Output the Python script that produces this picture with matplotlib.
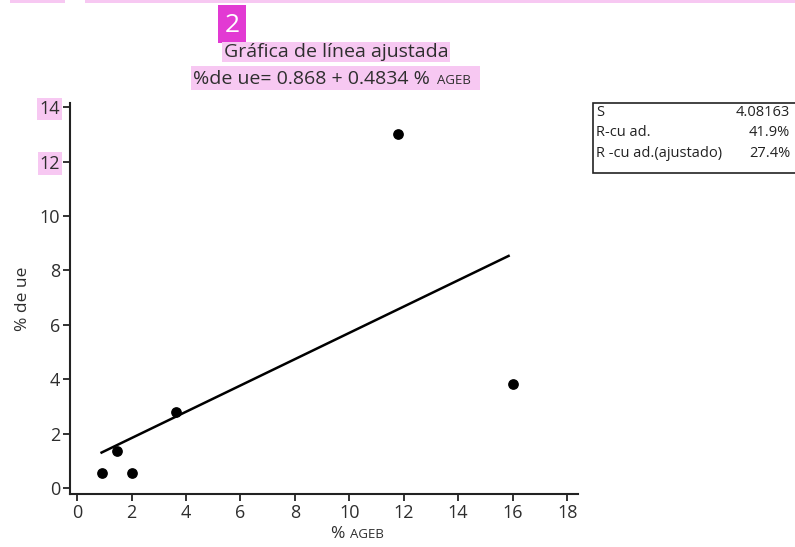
import matplotlib
matplotlib.use("Agg")
import matplotlib.pyplot as plt
from matplotlib.patches import Rectangle
import numpy as np

# Data
x_ageb = [0.9, 1.45, 2.0, 3.65, 11.8, 16.0]
y_ue = [0.55, 1.36, 0.55, 2.78, 13.0, 3.82]
intercept = 0.868
slope = 0.4834
fit_x_range = [0.9, 15.85]
x_ticks = [0, 2, 4, 6, 8, 10, 12, 14, 16, 18]
y_ticks = [0, 2, 4, 6, 8, 10, 12, 14]
stats_labels = ["S", "R-cu ad.", "R -cu ad.(ajustado)"]
stats_values = ["4.08163", "41.9%", "27.4%"]

plt.rcParams['font.family'] = ['Open Sans', 'DejaVu Sans']
TXT = "#2e2e2e"
PINK = "#f7c8f2"
W, H = 795, 547

fig = plt.figure(figsize=(7.95, 5.47), dpi=100)
ax = fig.add_axes([70 / W, 1 - 494 / H, (578 - 70) / W, (494 - 103) / H])

ax.scatter(x_ageb, y_ue, s=45, color="black", zorder=3)
xl = np.array(fit_x_range)
ax.plot(xl, intercept + slope * xl, color="black", lw=1.8)

ax.set_xlim(-0.26, 18.4)
ax.set_ylim(-0.22, 14.15)
ax.set_xticks(x_ticks)
ax.set_yticks(y_ticks)
for s in ["top", "right"]:
    ax.spines[s].set_visible(False)
for s in ["left", "bottom"]:
    ax.spines[s].set_linewidth(1.5)
    ax.spines[s].set_color("#222222")
ax.tick_params(direction="out", length=5, width=1.3, color="#222222",
               labelsize=13, labelcolor=TXT, pad=2)

fig.canvas.draw()
for lab in ax.get_yticklabels():
    if lab.get_text() in ("12", "14"):
        lab.set_bbox(dict(facecolor=PINK, edgecolor="none", pad=1.5))

ax.set_ylabel("% de ue", fontsize=12.5, color=TXT, labelpad=6)
ax.set_xlabel("")
fig.text(330 / W, 1 - 538 / H, "%", fontsize=12.5, color=TXT, ha="left", va="baseline")
fig.text(350 / W, 1 - 538 / H, "AGEB", fontsize=9.5, color=TXT, ha="left", va="baseline")

# Titles
fig.text(336 / W, 1 - 52 / H, "Gráfica de línea ajustada", fontsize=14, color=TXT,
         ha="center", va="center",
         bbox=dict(facecolor=PINK, edgecolor="none", pad=1.0))
fig.patches.append(Rectangle((191 / W, 1 - 90 / H), (480 - 191) / W, 24 / H,
                             transform=fig.transFigure, facecolor=PINK, edgecolor="none"))
fig.text(435 / W, 1 - 84 / H, "%de ue= 0.868 + 0.4834 % ", fontsize=14, color=TXT,
         ha="right", va="baseline")
fig.text(437 / W, 1 - 84 / H, "AGEB", fontsize=9.5, color=TXT, ha="left", va="baseline")

# Badge "2"
fig.patches.append(Rectangle((218 / W, 1 - 43 / H), 28 / W, 38 / H,
                             transform=fig.transFigure, facecolor="#e23ad3", edgecolor="none"))
fig.text(232 / W, 1 - 25 / H, "2", fontsize=19, color="white", ha="center", va="center")

# top pink strips
fig.patches.append(Rectangle((10 / W, 1 - 3 / H), 55 / W, 3 / H,
                             transform=fig.transFigure, facecolor=PINK, edgecolor="none"))
fig.patches.append(Rectangle((85 / W, 1 - 3 / H), 710 / W, 3 / H,
                             transform=fig.transFigure, facecolor=PINK, edgecolor="none"))

# Stats box
fig.patches.append(Rectangle((593 / W, 1 - 173 / H), (800 - 593) / W, 70 / H,
                             transform=fig.transFigure, facecolor="white",
                             edgecolor="#222222", lw=1.2))
for i, (lab, val) in enumerate(zip(stats_labels, stats_values)):
    yy = 1 - (113 + i * 20) / H
    fig.text(596 / W, yy, lab, fontsize=10.5, color="#222222", ha="left", va="center")
    fig.text(790 / W, yy, val, fontsize=10.5, color="#222222", ha="right", va="center")

fig.savefig("out.png", dpi=100)
